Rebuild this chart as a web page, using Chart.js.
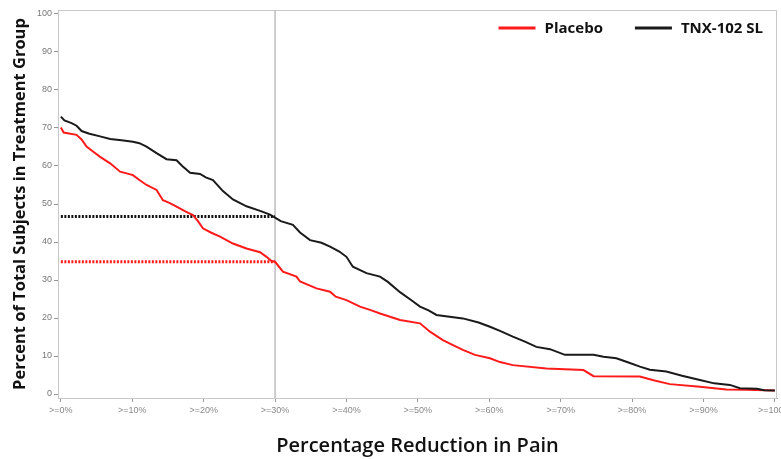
<!DOCTYPE html>
<html>
<head>
<meta charset="utf-8">
<script src="https://cdn.jsdelivr.net/npm/chart.js@4/dist/chart.umd.min.js"></script>
<style>
  html, body { margin: 0; padding: 0; background: #fff; }
</style>
</head>
<body>
<canvas id="chart" width="781" height="459"></canvas>
<script>
// Percentage reduction in pain (x) vs percent of subjects (y)
const tnxX = [0, 0.5, 1.5, 2.2, 2.9, 4, 5.5, 6.9, 8.5, 10.1, 11, 12, 13.4, 14.8, 16.2, 17, 18.1, 19.5, 20.3, 21.3, 22.7, 24.1, 26, 27.9, 29.3, 30, 30.8, 32.5, 33.5, 34.9, 36.5, 37.7, 39, 40, 40.9, 42.8, 44.7, 45.8, 47.5, 49, 50.3, 51.5, 52.6, 56.3, 58.5, 60.1, 61.5, 63.3, 65, 66.6, 68.5, 70.6, 74.6, 76, 77.8, 79.5, 81.1, 82.5, 84.8, 87, 89.5, 91.5, 93.7, 95.1, 97.5, 98.5, 100];
const tnxY = [73.0, 72.0, 71.3, 70.6, 69.2, 68.5, 67.8, 67.1, 66.8, 66.4, 66.0, 65.1, 63.4, 61.8, 61.5, 60.0, 58.2, 57.9, 57.0, 56.3, 53.4, 51.2, 49.4, 48.2, 47.2, 46.4, 45.5, 44.5, 42.5, 40.5, 39.8, 38.8, 37.5, 36.1, 33.5, 31.8, 30.9, 29.5, 26.8, 24.8, 23.0, 22.0, 20.8, 19.9, 18.8, 17.7, 16.6, 15.1, 13.8, 12.4, 11.8, 10.3, 10.3, 9.8, 9.4, 8.3, 7.2, 6.4, 5.9, 4.8, 3.7, 2.8, 2.4, 1.5, 1.4, 1.0, 0.9];

const placeboX = [0, 0.4, 2.2, 2.9, 3.6, 4.5, 5.5, 6.9, 8.3, 10.1, 11, 12, 13.4, 14.3, 15.2, 16.2, 17.5, 18.5, 19.2, 19.9, 21, 22.3, 24.1, 26, 27.9, 28.8, 29.5, 30, 31.1, 33, 33.5, 35.8, 37.7, 38.5, 40, 41.9, 43.5, 44.7, 47.5, 50.3, 51.7, 53.5, 55, 56.3, 58, 60.1, 61.5, 63.3, 68, 73.2, 74.6, 81.1, 83, 85.3, 89.5, 93.2, 96, 100];
const placeboY = [70.1, 68.8, 68.2, 67.0, 65.1, 63.8, 62.4, 60.7, 58.5, 57.6, 56.3, 55.0, 53.7, 51.0, 50.3, 49.3, 48.0, 47.1, 45.5, 43.6, 42.5, 41.4, 39.6, 38.3, 37.3, 36.1, 35.0, 34.8, 32.2, 30.9, 29.6, 27.8, 26.9, 25.6, 24.7, 23.0, 22.0, 21.2, 19.5, 18.6, 16.4, 14.2, 12.8, 11.6, 10.3, 9.4, 8.4, 7.6, 6.7, 6.3, 4.7, 4.6, 3.6, 2.6, 1.9, 1.2, 1.1, 0.9];

// 30% responder cut-off and the share of each group reaching it
const cutoff = 30;
const tnxAtCutoff = 46.7;
const placeboAtCutoff = 34.8;

const xTicks = [0, 10, 20, 30, 40, 50, 60, 70, 80, 90, 100];
const yTicks = [0, 10, 20, 30, 40, 50, 60, 70, 80, 90, 100];

const pts = (xs, ys) => xs.map((x, i) => ({ x: x, y: ys[i] }));

// light frame around the plot area
const framePlugin = {
    id: "frame",
    beforeDatasetsDraw(chart) {
        const { ctx, chartArea: a } = chart;
        ctx.save();
        ctx.strokeStyle = "#c8c8c8";
        ctx.lineWidth = 1;
        ctx.strokeRect(a.left + 0.5, a.top + 0.5, a.width - 1, a.height);
        ctx.restore();
    }
};

// legend in the top right corner of the plot, one row
const legendPlugin = {
    id: "rowLegend",
    afterDraw(chart) {
        const { ctx, chartArea: a } = chart;
        const items = chart.data.datasets.filter(d => d.label);
        ctx.save();
        ctx.font = "bold 15px 'Open Sans', sans-serif";
        ctx.textBaseline = "middle";
        const y = a.top + 18;
        let right = a.right - 14;
        for (let i = items.length - 1; i >= 0; i--) {
            const w = ctx.measureText(items[i].label).width;
            const tx = right - w;
            ctx.fillStyle = "#111";
            ctx.fillText(items[i].label, tx, y + 1);
            ctx.strokeStyle = items[i].borderColor;
            ctx.lineWidth = 3;
            ctx.beginPath();
            ctx.moveTo(tx - 46, y);
            ctx.lineTo(tx - 9, y);
            ctx.stroke();
            right = tx - 46 - 32;
        }
        ctx.restore();
    }
};

new Chart(document.getElementById("chart"), {
    type: "line",
    data: {
        datasets: [
            {
                label: "Placebo",
                data: pts(placeboX, placeboY),
                borderColor: "#ff1a1a",
                backgroundColor: "#ff1a1a",
                borderWidth: 2,
                pointRadius: 0,
                tension: 0,
                order: 1
            },
            {
                label: "TNX-102 SL",
                data: pts(tnxX, tnxY),
                borderColor: "#1a1a1a",
                backgroundColor: "#1a1a1a",
                borderWidth: 2,
                pointRadius: 0,
                tension: 0,
                order: 0
            },
            {
                label: "",
                data: [{ x: 0, y: tnxAtCutoff }, { x: cutoff, y: tnxAtCutoff }],
                borderColor: "#111",
                borderWidth: 3,
                borderDash: [2, 1.5],
                pointRadius: 0,
                order: 2
            },
            {
                label: "",
                data: [{ x: 0, y: placeboAtCutoff }, { x: cutoff, y: placeboAtCutoff }],
                borderColor: "#ff1a1a",
                borderWidth: 3,
                borderDash: [2, 1.5],
                pointRadius: 0,
                order: 2
            },
            {
                label: "",
                data: [{ x: cutoff, y: -1.05 }, { x: cutoff, y: 101.05 }],
                borderColor: "#bdbdbd",
                borderWidth: 1.5,
                pointRadius: 0,
                order: 3
            }
        ]
    },
    options: {
        responsive: false,
        animation: false,
        layout: { padding: { top: 10, right: 4, left: 0, bottom: 0 } },
        plugins: {
            tooltip: { enabled: false },
            legend: { display: false }
        },
        scales: {
            x: {
                type: "linear",
                min: -0.4,
                max: 100.3,
                afterBuildTicks: s => { s.ticks = xTicks.map(v => ({ value: v })); },
                afterFit: s => { s.height = 61; s.paddingLeft = 0; s.paddingRight = 0; },
                ticks: {
                    autoSkip: false,
                    maxRotation: 0,
                    padding: 3,
                    color: "#888",
                    font: { family: "Arial, sans-serif", size: 9 },
                    callback: v => ">=" + v + "%"
                },
                grid: { display: true, drawOnChartArea: false, tickLength: 4, color: "#999" },
                border: { color: "#999" },
                title: {
                    display: true,
                    text: "Percentage Reduction in Pain",
                    color: "#111",
                    font: { family: "'Open Sans', sans-serif", size: 20, weight: "600" },
                    padding: { top: 0, bottom: 1 }
                }
            },
            y: {
                min: -1.05,
                max: 101.05,
                afterBuildTicks: s => { s.ticks = yTicks.map(v => ({ value: v })); },
                afterFit: s => { s.width = 58; },
                ticks: {
                    padding: 2,
                    color: "#777",
                    font: { family: "Arial, sans-serif", size: 9 }
                },
                grid: { display: true, drawOnChartArea: false, tickLength: 4, color: "#999" },
                border: { color: "#999" },
                title: {
                    display: true,
                    text: "Percent of Total Subjects in Treatment Group",
                    color: "#111",
                    font: { family: "'Open Sans', sans-serif", size: 16.5, weight: "bold" },
                    padding: { top: 10, bottom: 0 }
                }
            }
        }
    },
    plugins: [framePlugin, legendPlugin]
});
</script>
</body>
</html>
